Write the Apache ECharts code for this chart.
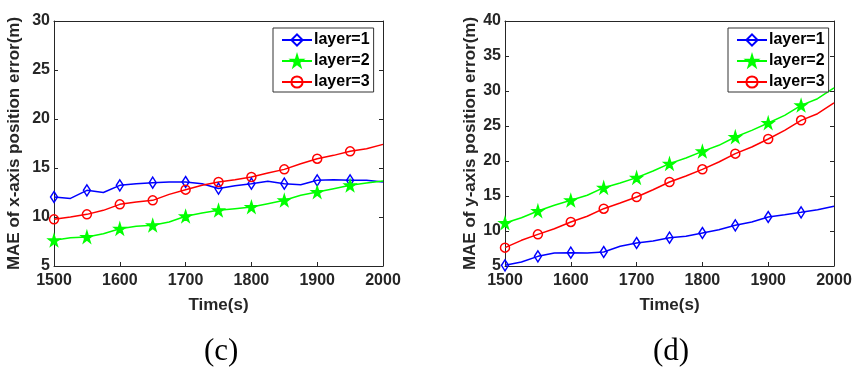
<!DOCTYPE html>
<html>
<head>
<meta charset="utf-8">
<script src="https://cdn.jsdelivr.net/npm/echarts@6/dist/echarts.min.js"></script>
<style>
html,body{margin:0;padding:0;background:#fff;}
#c{width:860px;height:374px;}
</style>
</head>
<body>
<div id="c"></div>
<script>
var times = [1500,1525,1550,1575,1600,1625,1650,1675,1700,1725,1750,1775,1800,1825,1850,1875,1900,1925,1950,1975,2000];
var xTicks = [1500,1600,1700,1800,1900,2000];
var seriesNames = ['layer=1','layer=2','layer=3'];

// (c) MAE of x-axis position error
var cLayer1 = [12.04,11.9,12.72,12.5,13.23,13.4,13.5,13.57,13.57,13.4,12.9,13.2,13.4,13.64,13.4,13.3,13.74,13.8,13.74,13.74,13.57];
var cLayer2 = [7.62,7.89,7.96,8.3,8.81,9.05,9.15,9.49,10.07,10.41,10.68,10.85,11.02,11.36,11.7,12.21,12.55,12.89,13.23,13.47,13.67];
var cLayer3 = [9.76,10.0,10.27,10.68,11.29,11.53,11.7,12.31,12.79,13.23,13.57,13.81,14.08,14.49,14.86,15.44,15.95,16.29,16.7,16.97,17.41];

// (d) MAE of y-axis position error
var dLayer1 = [5.1,5.57,6.38,6.86,6.9,6.86,7.0,7.81,8.29,8.57,9.05,9.24,9.71,10.19,10.81,11.29,12.0,12.33,12.67,13.05,13.52];
var dLayer2 = [11.14,11.9,12.86,13.67,14.38,15.1,16.19,16.86,17.62,18.57,19.62,20.43,21.38,22.24,23.43,24.38,25.43,26.52,27.95,28.9,30.43];
var dLayer3 = [7.62,8.67,9.52,10.33,11.29,12.1,13.19,14.0,14.86,15.9,17.0,17.86,18.81,19.86,21.05,22.0,23.14,24.38,25.81,26.76,28.29];

var STAR = 'path://M50,0 L61,35 L98,35 L68,57 L79,91 L50,70 L21,91 L32,57 L2,35 L39,35 Z';
var styles = [
  {color:'#0000ff', symbol:'diamond', size:[7,11], fill:'rgba(255,255,255,0)'},
  {color:'#00ff00', symbol:STAR, size:11, fill:'#00ff00'},
  {color:'#ff0000', symbol:'circle', size:9, fill:'rgba(255,255,255,0)'}
];

function build(vals){
  return vals.map(function(v,i){
    var item = {value:[times[i], v]};
    if (i % 2 !== 0 || times[i] === 2000) item.symbol = 'none';
    return item;
  });
}
function mkSeries(vals, k, g){
  var s = styles[k];
  return {
    name: seriesNames[k], type:'line', xAxisIndex:g, yAxisIndex:g,
    data: build(vals), showAllSymbol:true, symbol:s.symbol, symbolSize:s.size,
    color: s.color,
    lineStyle:{color:s.color, width:1.5},
    itemStyle:{color:s.fill, borderColor:s.color, borderWidth:1.5},
    emphasis:{disabled:true}, animation:false, z:3
  };
}

var axisCol = '#262626';
var lblFont = {color:axisCol, fontFamily:'Liberation Sans', fontWeight:'bold', fontSize:16};
var titleFont = {color:axisCol, fontFamily:'Liberation Sans', fontWeight:'bold', fontSize:17};
function xAx(g){
  return {type:'value', gridIndex:g, min:1500, max:2000, interval:100,
    axisLine:{show:true, lineStyle:{color:axisCol, width:1}},
    axisTick:{show:true, inside:true, length:4, lineStyle:{color:axisCol}},
    axisLabel:Object.assign({margin:7, formatter:function(v){return xTicks.indexOf(v)>=0?String(v):'';}}, lblFont),
    splitLine:{show:false},
    name:'Time(s)', nameLocation:'middle', nameGap:31,
    nameTextStyle:titleFont};
}
function xTop(g){
  return {type:'value', gridIndex:g, position:'top', min:1500, max:2000, interval:100,
    axisLine:{show:true, lineStyle:{color:axisCol, width:1}},
    axisTick:{show:false}, axisLabel:{show:false}, splitLine:{show:false}};
}
function yAx(g, max, title, gap){
  return {type:'value', gridIndex:g, min:5, max:max, interval:5,
    axisLine:{show:true, lineStyle:{color:axisCol, width:1}},
    axisTick:{show:true, inside:true, length:4, lineStyle:{color:axisCol}},
    axisLabel:Object.assign({margin:4}, lblFont),
    splitLine:{show:false},
    name:title, nameLocation:'middle', nameGap:gap, nameRotate:90,
    nameTextStyle:titleFont};
}
function yRight(g, max){
  return {type:'value', gridIndex:g, position:'right', min:5, max:max, interval:5,
    axisLine:{show:true, lineStyle:{color:axisCol, width:1}},
    axisTick:{show:true, inside:true, length:4, lineStyle:{color:axisCol}},
    axisLabel:{show:false}, splitLine:{show:false}};
}
function legend(left){
  return {left:left, top:28, orient:'vertical', data:seriesNames,
    itemWidth:30, itemHeight:14, itemGap:5, padding:[4,4,2,8],
    borderColor:'#333', borderWidth:1, backgroundColor:'#fff',
    textStyle:{color:'#000', fontFamily:'Liberation Sans', fontWeight:'bold', fontSize:16, lineHeight:16, padding:[0,0,0,-3]},
    selectedMode:false};
}

var chart = echarts.init(document.getElementById('c'), null, {renderer:'canvas'});
chart.setOption({
  backgroundColor:'#fff',
  animation:false,
  title:[
    {text:'(c)', left:204, top:336, padding:0, textStyle:{fontFamily:'Liberation Serif', fontWeight:'normal', fontSize:31, color:'#000'}},
    {text:'(d)', left:653, top:336, padding:0, textStyle:{fontFamily:'Liberation Serif', fontWeight:'normal', fontSize:31, color:'#000'}}
  ],
  grid:[
    {left:54, top:21, width:329, height:245},
    {left:505, top:21, width:329, height:245}
  ],
  legend:[legend(273), legend(728)],
  xAxis:[xAx(0), xAx(1), xTop(0), xTop(1)],
  yAxis:[yAx(0,30,'MAE of x-axis position error(m)',31), yAx(1,40,'MAE of y-axis position error(m)',25), yRight(0,30), yRight(1,40)],
  series:[
    mkSeries(cLayer1,0,0), mkSeries(cLayer2,1,0), mkSeries(cLayer3,2,0),
    mkSeries(dLayer1,0,1), mkSeries(dLayer2,1,1), mkSeries(dLayer3,2,1)
  ]
});
</script>
</body>
</html>
